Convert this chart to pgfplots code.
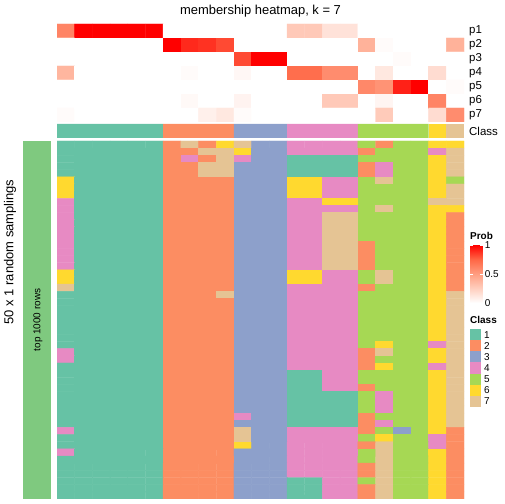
\documentclass[border=0pt]{standalone}
\usepackage{pgfplots}
\pgfplotsset{compat=1.18}
\usepackage{fontspec}
\setmainfont{Liberation Sans}
\definecolor{k1}{RGB}{102,194,165}
\definecolor{k2}{RGB}{252,141,98}
\definecolor{k3}{RGB}{141,160,203}
\definecolor{k4}{RGB}{231,138,195}
\definecolor{k5}{RGB}{166,216,84}
\definecolor{k6}{RGB}{255,217,47}
\definecolor{k7}{RGB}{229,196,148}
\definecolor{acc}{RGB}{127,201,127}
\pgfplotsset{
  colormap={prob}{rgb255=(255,255,255) rgb255=(255,207,191) rgb255=(255,158,129) rgb255=(255,103,70) rgb255=(255,0,0)},
  colormap={cls}{rgb255=(102,194,165) rgb255=(252,141,98) rgb255=(141,160,203) rgb255=(231,138,195) rgb255=(166,216,84) rgb255=(255,217,47) rgb255=(229,196,148)},
  hm/.style={scale only axis, anchor=north west, width=407bp, xmin=-0.5, xmax=22.5,
    axis line style={draw=none}, tick style={draw=none}, major tick length=0pt,
    xtick=\empty, ytick=\empty},
  rl/.style={yticklabel pos=right, yticklabel style={font=\fontsize{11.5}{13}\selectfont, anchor=west, inner sep=0pt, xshift=5bp}},
}
\begin{document}
\begin{tikzpicture}[x=1bp,y=1bp]
\path[use as bounding box] (0,0) rectangle (504,504);
\coordinate (cbpos) at (461.5,259);
% top probability heatmap
\begin{axis}[hm, rl, at={(57bp,480bp)}, height=98bp, ymin=-0.5, ymax=6.5, y dir=reverse,
  colormap name=prob, point meta min=0, point meta max=1,
  ytick={0,1,2,3,4,5,6}, yticklabels={p1,p2,p3,p4,p5,p6,p7},
  colorbar, colorbar style={at={(cbpos)}, anchor=north west, scale only axis,
    width=12.7bp, height=58bp, ytick={0,0.5,1}, yticklabel pos=right, ytick pos=both,
    /pgf/number format/assume math mode=true,
    yticklabel style={font=\fontsize{10}{12}\selectfont, inner sep=0pt, xshift=2bp},
    axis line style={draw=none}, ytick style={draw=white, line width=0.8pt},
    major tick length=2.5bp, tick align=inside}]
\addplot[matrix plot, line width=0.4pt, mesh/cols=23, point meta=explicit] table[row sep=\\, x expr={\coordindex-23*floor((\coordindex+0.5)/23)}, y expr={floor((\coordindex+0.5)/23)}, meta=c] {
c\\
0.62\\1\\1\\1\\1\\1\\0\\0\\0\\0\\0\\0\\0\\0.28\\0.28\\0.15\\0.15\\0\\0\\0\\0\\0\\0\\
0\\0\\0\\0\\0\\0\\1\\0.9\\0.88\\0.82\\0\\0\\0\\0\\0\\0\\0\\0.4\\0.02\\0\\0\\0\\0.4\\
0\\0\\0\\0\\0\\0\\0\\0\\0\\0\\0.82\\1\\1\\0\\0\\0\\0\\0\\0\\0.02\\0\\0\\0\\
0.38\\0\\0\\0\\0\\0\\0\\0.02\\0\\0\\0.04\\0\\0\\0.72\\0.72\\0.58\\0.58\\0\\0.12\\0\\0\\0.18\\0\\
0\\0\\0\\0\\0\\0\\0\\0\\0\\0\\0\\0\\0\\0\\0\\0\\0\\0.6\\0.55\\0.92\\1\\0\\0.02\\
0\\0\\0\\0\\0\\0\\0\\0.03\\0\\0\\0.06\\0\\0\\0\\0\\0.28\\0.28\\0\\0.05\\0\\0\\0.62\\0\\
0.02\\0\\0\\0\\0\\0\\0\\0\\0.08\\0.12\\0.02\\0\\0\\0\\0\\0\\0\\0\\0.27\\0\\0\\0.18\\0.58\\
};
\end{axis}
% class strip
\begin{axis}[hm, rl, at={(57bp,380bp)}, height=14bp, ymin=0, ymax=1,
  ytick={0.5}, yticklabels={Class}]
\addplot[ybar, bar width=1, bar shift=0pt, draw=none, fill=k1] coordinates {(0,1) (1,1) (2,1) (3,1) (4,1) (5,1)};
\addplot[ybar, bar width=1, bar shift=0pt, draw=none, fill=k2] coordinates {(6,1) (7,1) (8,1) (9,1)};
\addplot[ybar, bar width=1, bar shift=0pt, draw=none, fill=k3] coordinates {(10,1) (11,1) (12,1)};
\addplot[ybar, bar width=1, bar shift=0pt, draw=none, fill=k4] coordinates {(13,1) (14,1) (15,1) (16,1)};
\addplot[ybar, bar width=1, bar shift=0pt, draw=none, fill=k5] coordinates {(17,1) (18,1) (19,1) (20,1)};
\addplot[ybar, bar width=1, bar shift=0pt, draw=none, fill=k6] coordinates {(21,1)};
\addplot[ybar, bar width=1, bar shift=0pt, draw=none, fill=k7] coordinates {(22,1)};
\end{axis}
% main heatmap
\begin{axis}[hm, at={(57bp,363bp)}, height=358bp, ymin=-0.5, ymax=49.5, y dir=reverse,
  colormap name=cls, point meta min=1, point meta max=7]
\addplot[matrix plot, line width=0.4pt, mesh/cols=23, point meta=explicit] table[row sep=\\, x expr={\coordindex-23*floor((\coordindex+0.5)/23)}, y expr={floor((\coordindex+0.5)/23)}, meta=c] {
c\\
1\\1\\1\\1\\1\\1\\2\\7\\2\\6\\7\\3\\3\\4\\4\\4\\4\\5\\2\\5\\5\\6\\6\\
1\\1\\1\\1\\1\\1\\2\\2\\7\\7\\6\\3\\3\\4\\4\\4\\4\\2\\5\\5\\5\\4\\7\\
1\\1\\1\\1\\1\\1\\2\\4\\2\\7\\4\\3\\3\\1\\1\\1\\1\\5\\5\\5\\5\\6\\7\\
1\\1\\1\\1\\1\\1\\2\\2\\7\\7\\3\\3\\3\\1\\1\\1\\1\\2\\4\\5\\5\\6\\7\\
1\\1\\1\\1\\1\\1\\2\\2\\7\\7\\3\\3\\3\\1\\1\\1\\1\\2\\4\\5\\5\\6\\7\\
6\\1\\1\\1\\1\\1\\2\\2\\2\\2\\3\\3\\3\\6\\6\\4\\4\\5\\7\\5\\5\\6\\5\\
6\\1\\1\\1\\1\\1\\2\\2\\2\\2\\3\\3\\3\\6\\6\\4\\4\\5\\5\\5\\5\\6\\7\\
6\\1\\1\\1\\1\\1\\2\\2\\2\\2\\3\\3\\3\\6\\6\\4\\4\\5\\5\\5\\5\\6\\7\\
4\\1\\1\\1\\1\\1\\2\\2\\2\\2\\3\\3\\3\\4\\4\\6\\6\\5\\5\\5\\5\\7\\7\\
4\\1\\1\\1\\1\\1\\2\\2\\2\\2\\3\\3\\3\\4\\4\\4\\4\\5\\7\\5\\5\\6\\6\\
4\\1\\1\\1\\1\\1\\2\\2\\2\\2\\3\\3\\3\\4\\4\\7\\7\\5\\5\\5\\5\\6\\2\\
4\\1\\1\\1\\1\\1\\2\\2\\2\\2\\3\\3\\3\\4\\4\\7\\7\\5\\5\\5\\5\\6\\2\\
4\\1\\1\\1\\1\\1\\2\\2\\2\\2\\3\\3\\3\\4\\4\\7\\7\\5\\5\\5\\5\\6\\2\\
4\\1\\1\\1\\1\\1\\2\\2\\2\\2\\3\\3\\3\\4\\4\\7\\7\\5\\5\\5\\5\\6\\2\\
4\\1\\1\\1\\1\\1\\2\\2\\2\\2\\3\\3\\3\\4\\4\\7\\7\\2\\5\\5\\5\\6\\2\\
4\\1\\1\\1\\1\\1\\2\\2\\2\\2\\3\\3\\3\\4\\4\\7\\7\\2\\5\\5\\5\\6\\2\\
4\\1\\1\\1\\1\\1\\2\\2\\2\\2\\3\\3\\3\\4\\4\\7\\7\\2\\5\\5\\5\\6\\2\\
4\\1\\1\\1\\1\\1\\2\\2\\2\\2\\3\\3\\3\\4\\4\\7\\7\\2\\5\\5\\5\\6\\2\\
6\\1\\1\\1\\1\\1\\2\\2\\2\\2\\3\\3\\3\\6\\6\\4\\4\\5\\7\\5\\5\\6\\2\\
6\\1\\1\\1\\1\\1\\2\\2\\2\\2\\3\\3\\3\\6\\6\\4\\4\\5\\7\\5\\5\\6\\2\\
7\\1\\1\\1\\1\\1\\2\\2\\2\\2\\3\\3\\3\\4\\4\\4\\4\\2\\5\\5\\5\\6\\2\\
1\\1\\1\\1\\1\\1\\2\\2\\2\\7\\3\\3\\3\\4\\4\\4\\4\\5\\5\\5\\5\\6\\7\\
1\\1\\1\\1\\1\\1\\2\\2\\2\\2\\3\\3\\3\\4\\4\\4\\4\\5\\5\\5\\5\\6\\7\\
1\\1\\1\\1\\1\\1\\2\\2\\2\\2\\3\\3\\3\\4\\4\\4\\4\\5\\5\\5\\5\\6\\7\\
1\\1\\1\\1\\1\\1\\2\\2\\2\\2\\3\\3\\3\\4\\4\\4\\4\\5\\5\\5\\5\\6\\7\\
1\\1\\1\\1\\1\\1\\2\\2\\2\\2\\3\\3\\3\\4\\4\\4\\4\\5\\5\\5\\5\\6\\7\\
1\\1\\1\\1\\1\\1\\2\\2\\2\\2\\3\\3\\3\\4\\4\\4\\4\\5\\5\\5\\5\\6\\7\\
1\\1\\1\\1\\1\\1\\2\\2\\2\\2\\3\\3\\3\\4\\4\\4\\4\\5\\5\\5\\5\\6\\7\\
1\\1\\1\\1\\1\\1\\2\\2\\2\\2\\3\\3\\3\\4\\4\\4\\4\\5\\6\\5\\5\\4\\7\\
4\\1\\1\\1\\1\\1\\2\\2\\2\\2\\3\\3\\3\\4\\4\\4\\4\\2\\7\\5\\5\\6\\7\\
4\\1\\1\\1\\1\\1\\2\\2\\2\\2\\3\\3\\3\\4\\4\\4\\4\\2\\5\\5\\5\\6\\7\\
1\\1\\1\\1\\1\\1\\2\\2\\2\\2\\3\\3\\3\\4\\4\\4\\4\\2\\6\\5\\5\\4\\7\\
1\\1\\1\\1\\1\\1\\2\\2\\2\\2\\3\\3\\3\\1\\1\\4\\4\\5\\5\\5\\5\\6\\7\\
1\\1\\1\\1\\1\\1\\2\\2\\2\\2\\3\\3\\3\\1\\1\\4\\4\\5\\5\\5\\5\\6\\7\\
1\\1\\1\\1\\1\\1\\2\\2\\2\\2\\3\\3\\3\\1\\1\\4\\4\\2\\5\\5\\5\\6\\7\\
1\\1\\1\\1\\1\\1\\2\\2\\2\\2\\3\\3\\3\\1\\1\\1\\1\\5\\4\\5\\5\\6\\7\\
1\\1\\1\\1\\1\\1\\2\\2\\2\\2\\3\\3\\3\\1\\1\\1\\1\\5\\4\\5\\5\\6\\7\\
1\\1\\1\\1\\1\\1\\2\\2\\2\\2\\3\\3\\3\\1\\1\\1\\1\\5\\4\\5\\5\\6\\7\\
1\\1\\1\\1\\1\\1\\2\\2\\2\\2\\4\\3\\3\\1\\1\\1\\1\\2\\5\\5\\5\\6\\7\\
1\\1\\1\\1\\1\\1\\2\\2\\2\\2\\3\\3\\3\\1\\1\\1\\1\\2\\4\\5\\5\\6\\7\\
4\\1\\1\\1\\1\\1\\2\\2\\2\\2\\7\\3\\3\\4\\4\\4\\4\\2\\5\\3\\5\\6\\2\\
1\\1\\1\\1\\1\\1\\2\\2\\2\\2\\7\\3\\3\\4\\4\\4\\4\\5\\6\\5\\5\\4\\2\\
1\\1\\1\\1\\1\\1\\2\\2\\2\\2\\6\\3\\3\\4\\4\\4\\4\\2\\7\\5\\5\\4\\2\\
4\\1\\1\\1\\1\\1\\2\\2\\2\\2\\3\\3\\3\\4\\4\\4\\4\\5\\7\\5\\5\\6\\2\\
1\\1\\1\\1\\1\\1\\2\\2\\2\\2\\3\\3\\3\\4\\4\\4\\4\\5\\7\\5\\5\\6\\2\\
1\\1\\1\\1\\1\\1\\2\\2\\2\\2\\3\\3\\3\\4\\4\\4\\4\\2\\7\\5\\5\\6\\2\\
1\\1\\1\\1\\1\\1\\2\\2\\2\\2\\3\\3\\3\\4\\4\\4\\4\\2\\7\\5\\5\\6\\2\\
1\\1\\1\\1\\1\\1\\2\\2\\2\\2\\3\\3\\3\\1\\1\\4\\4\\5\\7\\5\\5\\6\\2\\
1\\1\\1\\1\\1\\1\\2\\2\\2\\2\\3\\3\\3\\1\\1\\4\\4\\2\\7\\5\\5\\6\\2\\
1\\1\\1\\1\\1\\1\\2\\2\\2\\2\\3\\3\\3\\1\\1\\4\\4\\2\\7\\5\\5\\6\\2\\
};
\end{axis}
% left annotation
\fill[acc] (23,5) rectangle (51,363);
\node[rotate=90, font=\fontsize{10}{12}\selectfont, inner sep=0pt] at (38,184) {top 1000 rows};
\node[rotate=90, font=\fontsize{13}{15}\selectfont, inner sep=0pt] at (10,252) {50 x 1 random samplings};
% title
\node[font=\fontsize{13}{15}\selectfont, inner sep=0pt] at (260.5,493) {membership heatmap, k = 7};
% legends
\node[anchor=west, font=\bfseries\fontsize{10}{12}\selectfont, inner sep=0pt] at (470,268) {Prob};
\node[anchor=west, font=\bfseries\fontsize{10}{12}\selectfont, inner sep=0pt] at (470,184) {Class};
\foreach \i/\c in {1/k1,2/k2,3/k3,4/k4,5/k5,6/k6,7/k7}{
  \fill[\c] (470,{174.7-11.06*(\i-1)}) rectangle (481,{174.7-11.06*\i});
  \node[anchor=west, font=\fontsize{10}{12}\selectfont, inner sep=0pt] at (484,{174.7-11.06*(\i-0.5)}) {\i};
}
\end{tikzpicture}
\end{document}
